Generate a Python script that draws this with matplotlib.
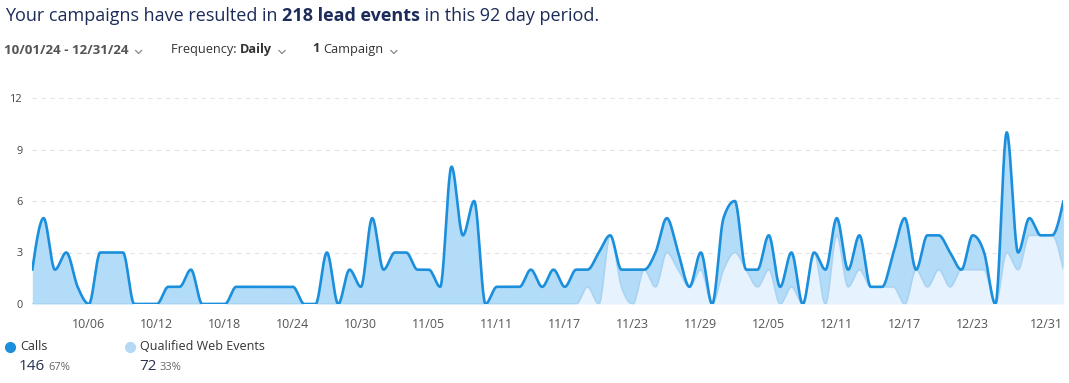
import numpy as np
import pandas as pd
import matplotlib
matplotlib.use("Agg")
import matplotlib.pyplot as plt
from matplotlib.lines import Line2D

plt.rcParams['font.family'] = ['Open Sans', 'DejaVu Sans']

# daily values, 10/01/24 .. 12/31/24
dates = pd.date_range("2024-10-01", "2024-12-31", freq="D")
calls = [2, 5, 2, 3, 1, 0, 3, 3, 3, 0,
         0, 0, 1, 1, 2, 0, 0, 0, 1, 1,
         1, 1, 1, 1, 0, 0, 3, 0, 2, 1,
         5, 2, 3, 3, 2, 2, 1, 8, 4, 6,
         0, 1, 1, 1, 2, 1, 2, 1, 2, 1,
         3, 0, 1, 2, 0, 2, 2, 1, 0, 1,
         0, 3, 3, 0, 1, 2, 1, 2, 0, 0,
         2, 1, 1, 2, 0, 0, 2, 5, 0, 3,
         2, 2, 0, 2, 1, 0, 7, 1, 1, 0,
         0, 4]
web_events = [0, 0, 0, 0, 0, 0, 0, 0, 0, 0,
              0, 0, 0, 0, 0, 0, 0, 0, 0, 0,
              0, 0, 0, 0, 0, 0, 0, 0, 0, 0,
              0, 0, 0, 0, 0, 0, 0, 0, 0, 0,
              0, 0, 0, 0, 0, 0, 0, 0, 0, 1,
              0, 4, 1, 0, 2, 1, 3, 2, 1, 2,
              0, 2, 3, 2, 1, 2, 0, 1, 0, 3,
              0, 4, 1, 2, 1, 1, 1, 0, 2, 1,
              2, 1, 2, 2, 2, 0, 3, 2, 4, 4,
              4, 2]
tick_labels = ["10/06", "10/12", "10/18", "10/24", "10/30", "11/05", "11/11",
               "11/17", "11/23", "11/29", "12/05", "12/11", "12/17", "12/23", "12/31"]
y_ticks = [0, 3, 6, 9, 12]

W, H = 1069, 383


def monotone(y, n=24):
    # monotone cubic curve through daily points (like d3 curveMonotoneX)
    y = np.asarray(y, dtype=float)
    x = np.arange(len(y))
    s = np.diff(y)
    t = np.zeros(len(y))
    for i in range(1, len(y) - 1):
        s0, s1 = s[i - 1], s[i]
        p = (s0 + s1) / 2
        t[i] = (np.sign(s0) + np.sign(s1)) * min(abs(s0), abs(s1), 0.5 * abs(p))
    t[0] = (3 * s[0] - t[1]) / 2
    t[-1] = (3 * s[-1] - t[-2]) / 2
    xs, ys = [], []
    u = np.linspace(0, 1, n, endpoint=False)
    h00 = 2 * u**3 - 3 * u**2 + 1
    h10 = u**3 - 2 * u**2 + u
    h01 = -2 * u**3 + 3 * u**2
    h11 = u**3 - u**2
    for i in range(len(y) - 1):
        xs.append(x[i] + u)
        ys.append(h00 * y[i] + h10 * t[i] + h01 * y[i + 1] + h11 * t[i + 1])
    xs.append([x[-1]])
    ys.append([y[-1]])
    return np.concatenate(xs), np.concatenate(ys)


fig = plt.figure(figsize=(W / 100, H / 100), dpi=100)
ax = fig.add_axes([32.3 / W, 1 - 304 / H, (1063.4 - 32.3) / W, (304 - 98) / H])

total = np.array(calls) + np.array(web_events)
xq, yq = monotone(web_events)
xt, yt = monotone(total)
yq = np.clip(yq, 0, None)
yt = np.maximum(np.clip(yt, 0, None), yq)

ax.fill_between(xq, 0, yq, color="#e6f2fd", lw=0, zorder=2)
ax.fill_between(xt, yq, yt, color="#b3dcf8", lw=0, zorder=2)
ax.plot(xq, yq, color="#a9d3f2", lw=1.2, zorder=3)
ax.plot(xt, yt, color="#1b8fdb", lw=1.9, zorder=4, solid_capstyle="round")

ax.set_xlim(0, len(dates) - 1)
ax.set_ylim(0, 12)
ax.set_yticks(y_ticks)
ax.set_yticklabels([str(v) for v in y_ticks])
for v in y_ticks[1:]:
    ax.axhline(v, color="#e3e3e3", lw=0.8, ls=(0, (4, 4)), zorder=1)

labels_all = [d.strftime("%m/%d") for d in dates]
tick_pos = [labels_all.index(lbl) for lbl in tick_labels]
ax.set_xticks(tick_pos)
ax.set_xticklabels(tick_labels)
for lbl in ax.get_xticklabels():
    lbl.set_color("#555555")
    lbl.set_fontsize(9)
ax.get_xticklabels()[-1].set_horizontalalignment("right")
for lbl in ax.get_yticklabels():
    lbl.set_color("#444444")
    lbl.set_fontsize(7.8)
ax.tick_params(axis="x", length=0, pad=10)
ax.tick_params(axis="y", length=0, pad=7)
for sp in ax.spines.values():
    sp.set_visible(False)

renderer = fig.canvas.get_renderer()


def run_text(x, y, parts, size):
    # draw pieces one after another on a single line (pixel coords)
    for txt, weight, color in parts:
        t = fig.text(x / W, 1 - y / H, txt, fontsize=size, fontweight=weight,
                     color=color, va="center", ha="left")
        bb = t.get_window_extent(renderer)
        x = bb.x1
    return x


def chevron(x, y, color="#888888"):
    fig.add_artist(Line2D([x / W, (x + 3) / W, (x + 6) / W],
                          [1 - (y - 1.5) / H, 1 - (y + 1.5) / H, 1 - (y - 1.5) / H],
                          transform=fig.transFigure, color=color, lw=0.9))


navy = "#1c2b59"
run_text(5, 16, [("Your campaigns have resulted in ", "normal", navy),
                 ("218 lead events", "bold", navy),
                 (" in this 92 day period.", "normal", navy)], 13)

end = run_text(4, 50, [("10/01/24 - 12/31/24", "bold", "#555555")], 9.6)
chevron(end + 7, 52)
end = run_text(171, 50, [("Frequency: ", "normal", "#333333"),
                         ("Daily", "bold", "#333333")], 9.2)
chevron(end + 7, 52)
end = run_text(313, 49, [("1 ", "bold", "#333333"),
                         ("Campaign", "normal", "#333333")], 9.2)
chevron(end + 7, 52)

# legend
n_calls = int(np.sum(calls))
n_web = int(np.sum(web_events))
n_all = n_calls + n_web
legend = [("Calls", n_calls, "#1b8fdb", 10), ("Qualified Web Events", n_web, "#b5d8f5", 130)]
for name, n, col, x0 in legend:
    fig.add_artist(Line2D([x0 / W], [1 - 347 / H], marker="o", markersize=7,
                          color=col, transform=fig.transFigure))
    run_text(x0 + 10, 346, [(name, "normal", "#333333")], 9)
    end = run_text(x0 + 9, 366, [(str(n), "normal", "#2a3350")], 11)
    run_text(end + 3, 367, [("%d%%" % round(100 * n / n_all), "normal", "#666666")], 8)

fig.savefig("out.png", dpi=100)
